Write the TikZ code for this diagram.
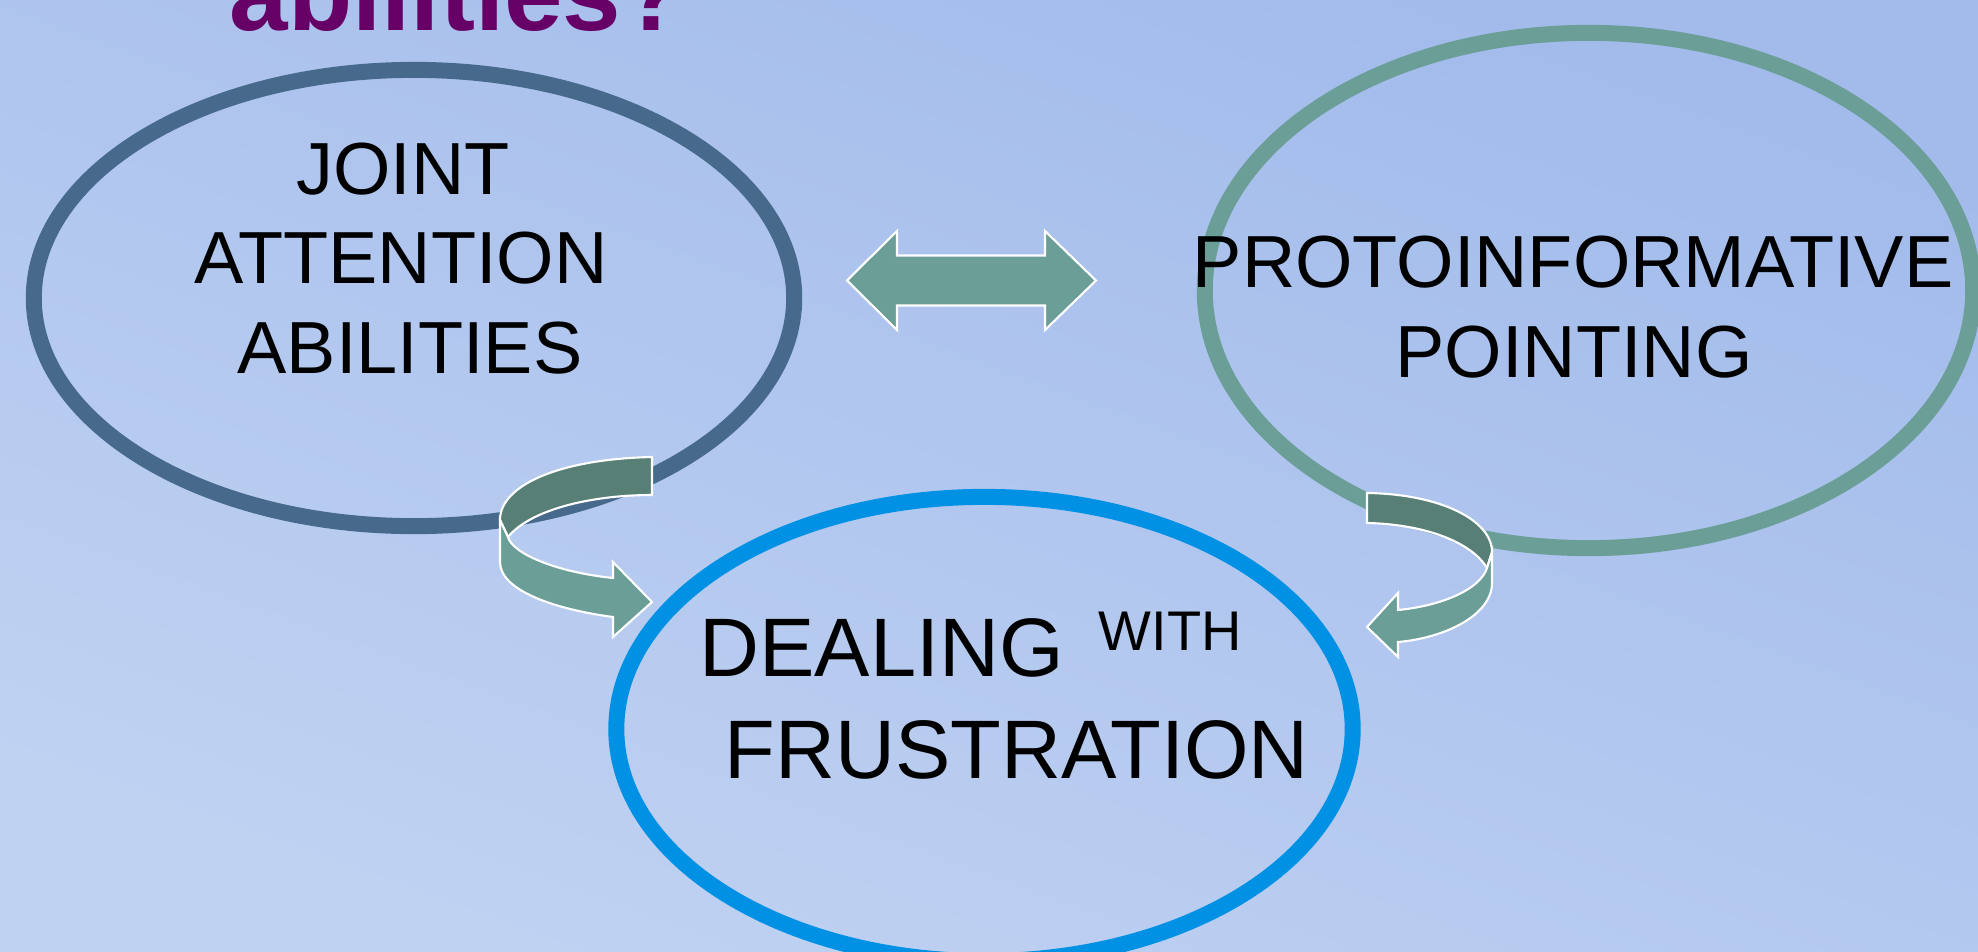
\documentclass[tikz,border=0pt]{standalone}
\usepackage{fontspec}
\setmainfont{Liberation Sans}
\usetikzlibrary{shapes.geometric, positioning}

\definecolor{slate}{HTML}{476A8C}
\definecolor{seagreen}{HTML}{6A9E97}
\definecolor{darkband}{HTML}{577F76}
\definecolor{sky}{HTML}{0091E5}
\definecolor{plum}{HTML}{660066}
\definecolor{bgtop}{HTML}{A2BBEB}
\definecolor{bgbottom}{HTML}{C0D2F2}

\begin{document}
\begin{tikzpicture}
    [
        x=0.01cm, y=-0.01cm,
        ring/.style={ellipse, inner sep=0pt, line width=1.6mm},
        caption/.style={inner sep=0pt, anchor=base, font=\fontsize{21}{25}\selectfont},
        bigcaption/.style={inner sep=0pt, anchor=base west, font=\fontsize{23.6}{28}\selectfont},
        band/.style={draw=white, line width=0.6pt},
    ]
    \useasboundingbox (0,0) rectangle (1978,951);
    \shade[top color=bgtop, bottom color=bgbottom, shading angle=-20] (0,0) rectangle (1978,951);

    % title, cut off at the top
    \node[inner sep=0pt, anchor=base west, text=plum, font=\fontsize{29.9}{36}\selectfont\bfseries] (title) at (229,30) {abilities?};

    % the three rings
    \node[ring, draw=slate, minimum width=7.60cm, minimum height=4.56cm] (joint) at (414,298) {};
    \node[ring, draw=seagreen, minimum width=7.68cm, minimum height=5.15cm] (proto) at (1589,290.5) {};
    \node[ring, draw=sky, minimum width=7.36cm, minimum height=4.64cm] (frust) at (984.5,729) {};

    % double arrow between the top rings
    \fill[seagreen, band] (847,280.5) -- (897,231) -- (897,255.5) -- (1045,255.5) -- (1045,231)
        -- (1096,280.5) -- (1045,330) -- (1045,305.5) -- (897,305.5) -- (897,330) -- cycle;

    % curved arrow, left
    \fill[darkband, band] (652,457) .. controls (560,459) and (500,485) .. (500,520)
        -- (508,537) .. controls (530,510) and (590,495) .. (652,495) -- cycle;
    \fill[seagreen, band] (500,520) -- (500,562) .. controls (500,592) and (560,610) .. (613,617)
        -- (613,637) -- (652,602) -- (613,562) -- (613,578)
        .. controls (555,572) and (512,553) .. (508,537) -- cycle;

    % curved arrow, right
    \fill[darkband, band] (1367,493) .. controls (1440,494) and (1492,520) .. (1492,552)
        -- (1487,568) .. controls (1470,540) and (1420,524) .. (1367,523) -- cycle;
    \fill[seagreen, band] (1492,552) -- (1492,583) .. controls (1492,615) and (1445,638) .. (1398,642)
        -- (1398,657) -- (1367,627) -- (1398,593) -- (1398,610)
        .. controls (1440,606) and (1480,590) .. (1487,568) -- cycle;

    % texts
    \node[caption] (joint1) at (403,194) {JOINT};
    \node[caption] (joint2) at (401,283) {ATTENTION};
    \node[caption] (joint3) at (410,373) {ABILITIES};
    \node[caption] (proto1) at (1573,287) {PROTOINFORMATIVE};
    \node[caption] (proto2) at (1574,377) {POINTING};
    \node[bigcaption] (frust1) at (699,676) {DEALING};
    \node[bigcaption, font=\fontsize{15.9}{19}\selectfont] (frust2) at (1098,650) {WITH};
    \node[bigcaption] (frust3) at (724,778) {FRUSTRATION};
\end{tikzpicture}
\end{document}
